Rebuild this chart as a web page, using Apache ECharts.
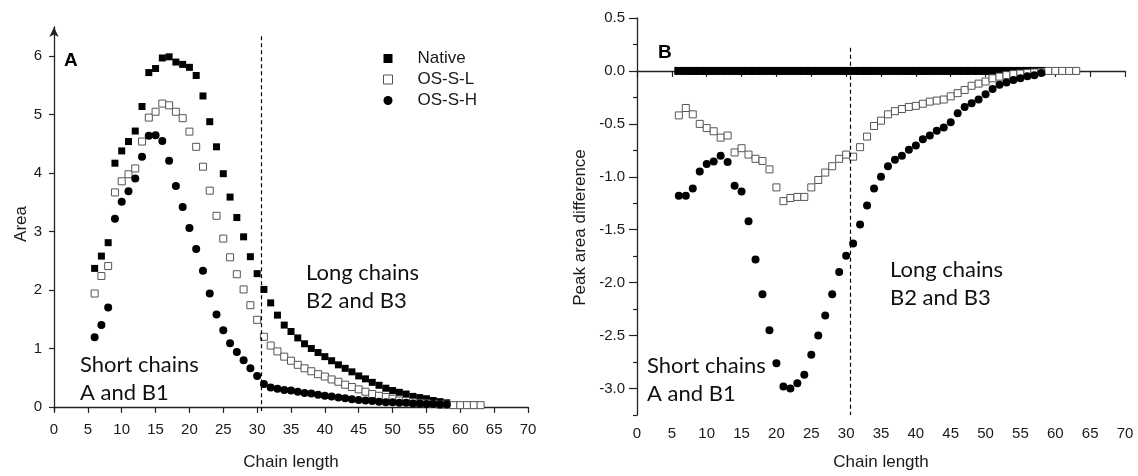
<!DOCTYPE html>
<html>
<head>
<meta charset="utf-8">
<script src="https://cdn.jsdelivr.net/npm/echarts@6/dist/echarts.min.js"></script>
<style>html,body{margin:0;padding:0;background:#fff}#c{width:1138px;height:476px}</style>
</head>
<body>
<div id="c"></div>
<script>
// ---- Panel A: Area vs chain length ----
const chainNative = [6,7,8,9,10,11,12,13,14,15,16,17,18,19,20,21,22,23,24,25,26,27,28,29,30,31,32,33,34,35,36,37,38,39,40,41,42,43,44,45,46,47,48,49,50,51,52,53,54,55,56,57,58];
const areaNative = [2.37,2.58,2.81,4.17,4.38,4.54,4.72,5.14,5.72,5.79,5.97,5.99,5.90,5.86,5.81,5.67,5.32,4.88,4.45,3.99,3.59,3.24,2.91,2.57,2.28,2.01,1.78,1.57,1.40,1.29,1.18,1.08,1.00,0.93,0.86,0.79,0.72,0.66,0.60,0.53,0.48,0.42,0.37,0.32,0.28,0.25,0.22,0.18,0.16,0.14,0.11,0.09,0.07];
const chainOSL = [6,7,8,9,10,11,12,13,14,15,16,17,18,19,20,21,22,23,24,25,26,27,28,29,30,31,32,33,34,35,36,37,38,39,40,41,42,43,44,45,46,47,48,49,50,51,52,53,54,55,56,57,58,59,60,61,62,63];
const areaOSL = [1.94,2.24,2.41,3.67,3.86,3.98,4.08,4.54,4.95,5.05,5.19,5.16,5.05,4.94,4.71,4.45,4.11,3.70,3.27,2.88,2.56,2.27,2.01,1.74,1.49,1.20,1.05,0.95,0.86,0.79,0.72,0.66,0.61,0.56,0.52,0.47,0.43,0.38,0.34,0.30,0.26,0.22,0.19,0.17,0.14,0.11,0.10,0.08,0.07,0.06,0.05,0.04,0.04,0.03,0.03,0.03,0.03,0.03];
const chainOSH = [6,7,8,9,10,11,12,13,14,15,16,17,18,19,20,21,22,23,24,25,26,27,28,29,30,31,32,33,34,35,36,37,38,39,40,41,42,43,44,45,46,47,48,49,50,51,52,53,54,55,56,57,58];
const areaOSH = [1.19,1.40,1.70,3.22,3.51,3.69,3.91,4.28,4.64,4.65,4.55,4.21,3.78,3.42,3.06,2.70,2.33,1.94,1.58,1.31,1.09,0.94,0.80,0.66,0.53,0.39,0.33,0.31,0.29,0.28,0.26,0.24,0.23,0.21,0.19,0.18,0.16,0.15,0.13,0.12,0.11,0.10,0.09,0.08,0.08,0.07,0.07,0.06,0.06,0.05,0.05,0.04,0.04];

// ---- Panel B: Peak area difference vs chain length ----
const diffNative = [0,0,0,0,0,0,0,0,0,0,0,0,0,0,0,0,0,0,0,0,0,0,0,0,0,0,0,0,0,0,0,0,0,0,0,0,0,0,0,0,0,0,0,0,0,0,0,0,0,0,0,0,0];
const diffOSL = [-0.42,-0.35,-0.41,-0.50,-0.54,-0.57,-0.63,-0.61,-0.77,-0.73,-0.79,-0.83,-0.85,-0.93,-1.10,-1.23,-1.20,-1.19,-1.19,-1.10,-1.03,-0.96,-0.90,-0.83,-0.79,-0.81,-0.72,-0.62,-0.52,-0.47,-0.41,-0.38,-0.36,-0.34,-0.33,-0.31,-0.29,-0.28,-0.27,-0.24,-0.21,-0.18,-0.14,-0.12,-0.10,-0.07,-0.054,-0.04,-0.03,-0.025,-0.02,-0.015,-0.01,0,0,0,0,0];
const diffOSH = [-1.18,-1.18,-1.11,-0.95,-0.88,-0.855,-0.80,-0.86,-1.085,-1.14,-1.42,-1.78,-2.11,-2.45,-2.76,-2.98,-3.00,-2.95,-2.87,-2.68,-2.50,-2.31,-2.11,-1.90,-1.745,-1.63,-1.45,-1.27,-1.11,-1.00,-0.90,-0.84,-0.80,-0.745,-0.705,-0.645,-0.61,-0.565,-0.535,-0.485,-0.40,-0.34,-0.305,-0.27,-0.22,-0.17,-0.13,-0.11,-0.085,-0.07,-0.05,-0.04,-0.02];

const seriesNames = ['Native', 'OS-S-L', 'OS-S-H'];
const yTicksA = [0,1,2,3,4,5,6];
const yTicksB = [-3.0,-2.5,-2.0,-1.5,-1.0,-0.5,0.0,0.5];
const yMinorB = [-3.25,-2.75,-2.25,-1.75,-1.25,-0.75,-0.25,0.25];
const dividerX = 30.6;

function pairs(xs, ys) { return xs.map((x, i) => [x, ys[i]]); }

const FONT = "'Liberation Sans', Arial, sans-serif";
const TXT = '#1a1a1a';
const axisLine = { show: true, lineStyle: { color: '#222', width: 1.3 } };

function xAxisFor(grid, gap) {
  return {
    type: 'value', gridIndex: grid, min: 0, max: 70, interval: 5,
    name: 'Chain length', nameLocation: 'middle', nameGap: gap,
    nameTextStyle: { fontFamily: FONT, fontSize: 17, color: TXT },
    axisLine: axisLine,
    axisTick: { show: true, inside: false, length: 6, lineStyle: { color: '#222', width: 1.2 } },
    axisLabel: { fontFamily: FONT, fontSize: 15, color: TXT, margin: 11 },
    splitLine: { show: false }
  };
}

const dashLine = (y0, y1) => ({
  silent: true, symbol: 'none', label: { show: false },
  lineStyle: { color: '#000', type: [4, 3], width: 1.2 },
  data: [[{ coord: [dividerX, y0] }, { coord: [dividerX, y1] }]]
});

const filled = { color: '#000', opacity: 1 };
const hollow = { color: '#fff', borderColor: '#555', borderWidth: 1, opacity: 1 };

const option = {
  animation: false,
  backgroundColor: '#fff',
  grid: [
    { left: 54, right: 610, top: 27, bottom: 63 },
    { left: 637, right: 13, top: 18, bottom: 61 }
  ],
  xAxis: [xAxisFor(0, 43), xAxisFor(1, 39)],
  yAxis: [
    {
      type: 'value', gridIndex: 0, min: -0.07, max: 6.5, position: 'left',
      name: 'Area', nameLocation: 'middle', nameGap: 24,
      nameTextStyle: { fontFamily: FONT, fontSize: 17, color: TXT, padding: [0, 10, 0, 0] },
      axisLine: { show: true, symbol: ['none', 'arrow'], symbolSize: [7, 10], lineStyle: { color: '#222', width: 1.3 } },
      axisTick: { show: true, length: 5, customValues: yTicksA, lineStyle: { color: '#222', width: 1.2 } },
      axisLabel: { fontFamily: FONT, fontSize: 15, color: TXT, margin: 12, customValues: yTicksA },
      splitLine: { show: false }
    },
    {
      type: 'value', gridIndex: 1, min: -3.25, max: 0.5, position: 'left',
      name: 'Peak area difference', nameLocation: 'middle', nameGap: 48,
      nameTextStyle: { fontFamily: FONT, fontSize: 17, color: TXT, padding: [0, 22, 0, 0] },
      axisLine: axisLine,
      axisTick: { show: true, length: 8, customValues: yTicksB, lineStyle: { color: '#222', width: 1.2 } },
      axisLabel: { fontFamily: FONT, fontSize: 15, color: TXT, margin: 12, customValues: yTicksB,
        formatter: v => v.toFixed(1) },
      splitLine: { show: false }
    },
    {
      type: 'value', gridIndex: 1, min: -3.25, max: 0.5, position: 'left', offset: 0,
      axisLine: { show: false },
      axisTick: { show: true, length: 4, customValues: yMinorB, lineStyle: { color: '#222', width: 1.2 } },
      axisLabel: { show: false },
      splitLine: { show: false }
    }
  ],
  legend: {
    left: 383, top: 50, orient: 'vertical', padding: 0, itemGap: 4,
    itemWidth: 9, itemHeight: 9, selectedMode: false,
    textStyle: { fontFamily: FONT, fontSize: 17, color: TXT, padding: [0, 0, 0, 20] },
    data: [
      { name: 'Native', icon: 'rect', itemStyle: filled },
      { name: 'OS-S-L', icon: 'rect', itemStyle: hollow },
      { name: 'OS-S-H', icon: 'circle', itemStyle: filled }
    ]
  },
  series: [
    { name: 'Native', type: 'scatter', xAxisIndex: 0, yAxisIndex: 0, symbol: 'rect', symbolSize: 7,
      itemStyle: filled, data: pairs(chainNative, areaNative),
      markLine: dashLine(6.34, -0.07) },
    { name: 'OS-S-L', type: 'scatter', xAxisIndex: 0, yAxisIndex: 0, symbol: 'rect', symbolSize: 7,
      itemStyle: hollow, data: pairs(chainOSL, areaOSL) },
    { name: 'OS-S-H', type: 'scatter', xAxisIndex: 0, yAxisIndex: 0, symbol: 'circle', symbolSize: 8,
      itemStyle: filled, data: pairs(chainOSH, areaOSH) },

    { name: 'Native', type: 'scatter', xAxisIndex: 1, yAxisIndex: 1, symbol: 'rect', symbolSize: [9, 8],
      itemStyle: filled, data: pairs(chainNative, diffNative),
      markLine: dashLine(0.22, -3.25) },
    { name: 'OS-S-L', type: 'scatter', xAxisIndex: 1, yAxisIndex: 1, symbol: 'rect', symbolSize: 7,
      itemStyle: hollow, data: pairs(chainOSL, diffOSL) },
    { name: 'OS-S-H', type: 'scatter', xAxisIndex: 1, yAxisIndex: 1, symbol: 'circle', symbolSize: 8,
      itemStyle: filled, data: pairs(chainOSH, diffOSH) }
  ],
  graphic: [
    { type: 'text', left: 64, top: 51, style: { text: 'A', font: 'bold 19px ' + FONT, fill: '#000' } },
    { type: 'text', left: 658, top: 43, style: { text: 'B', font: 'bold 19px ' + FONT, fill: '#000' } },
    { type: 'text', left: 80, top: 351, style: { text: 'Short chains\nA and B1', font: '22px Lato, sans-serif', lineHeight: 28, fill: '#111' } },
    { type: 'text', left: 306, top: 259, style: { text: 'Long chains\nB2 and B3', font: '22px Lato, sans-serif', lineHeight: 28, fill: '#111' } },
    { type: 'text', left: 647, top: 352, style: { text: 'Short chains\nA and B1', font: '22px Lato, sans-serif', lineHeight: 28, fill: '#111' } },
    { type: 'text', left: 890, top: 256, style: { text: 'Long chains\nB2 and B3', font: '22px Lato, sans-serif', lineHeight: 28, fill: '#111' } }
  ]
};

const chart = echarts.init(document.getElementById('c'), null, { renderer: 'canvas' });
chart.setOption(option);
</script>
</body>
</html>
